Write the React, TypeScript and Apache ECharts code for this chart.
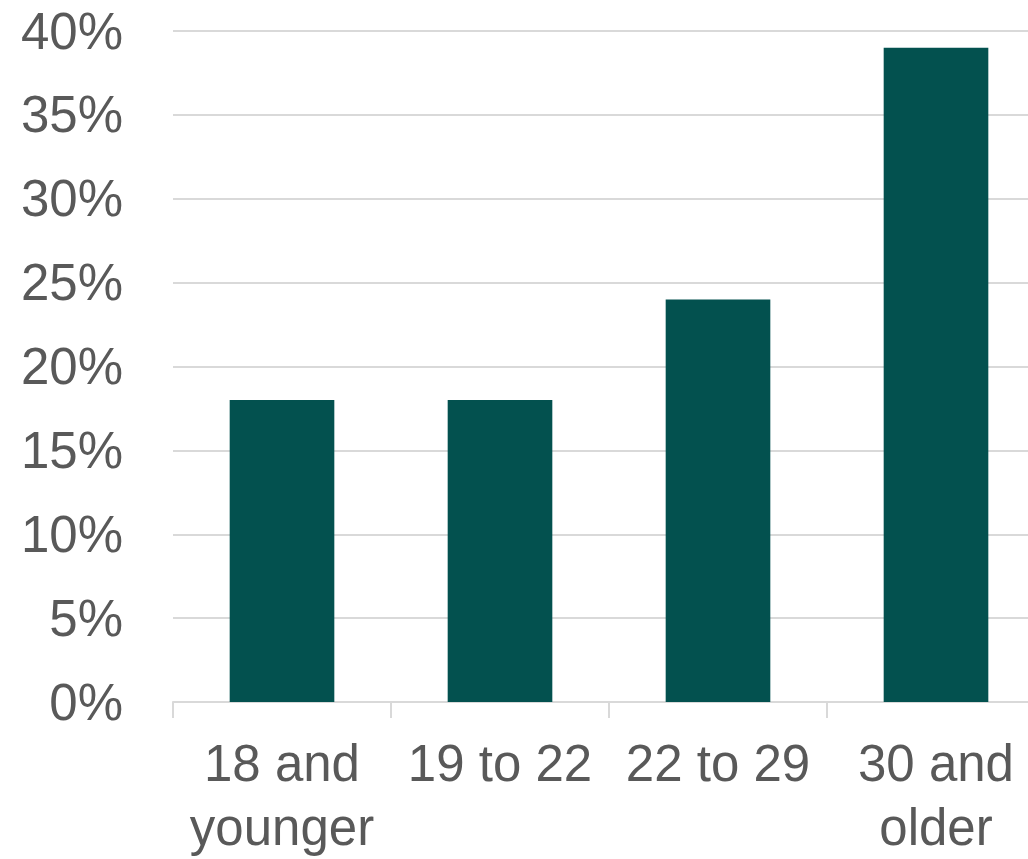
import React, { useEffect, useRef } from "react";
import * as echarts from "echarts";

const categories = ["18 and\nyounger", "19 to 22", "22 to 29", "30 and\nolder"];
const values = [18, 18, 24, 39];
const yMin = 0;
const yMax = 40;
const yInterval = 5;

export default function App() {
  const ref = useRef<HTMLDivElement>(null);
  useEffect(() => {
    if (!ref.current) return;
    const chart = echarts.init(ref.current, null, { renderer: "svg" });
    const font = "'Liberation Sans', Arial, sans-serif";
    chart.setOption({
      animation: false,
      backgroundColor: "#ffffff",
      grid: { left: 173, width: 872, top: 31, height: 676, containLabel: false },
      xAxis: {
        type: "category",
        data: categories,
        boundaryGap: true,
        axisLine: { show: true, lineStyle: { color: "#d9d9d9", width: 2 } },
        axisTick: { show: true, length: 16, lineStyle: { color: "#d9d9d9", width: 2 } },
        axisLabel: {
          color: "#595959",
          fontSize: 51,
          fontFamily: font,
          lineHeight: 64,
          margin: 29,
          interval: 0,
        },
      },
      yAxis: {
        type: "value",
        min: yMin,
        max: yMax,
        interval: yInterval,
        axisLine: { show: false },
        axisTick: { show: false },
        splitLine: { show: true, lineStyle: { color: "#d9d9d9", width: 2 } },
        axisLabel: {
          color: "#595959",
          fontSize: 51,
          fontFamily: font,
          margin: 50,
          formatter: (v: number) => `${v}%`,
        },
      },
      series: [
        {
          type: "bar",
          data: values,
          barWidth: "48%",
          itemStyle: { color: "#03514f" },
        },
      ],
    });
    return () => chart.dispose();
  }, []);
  return (
    <div
      ref={ref}
      style={{ position: "fixed", left: 0, top: 0, width: 1045, height: 859 }}
    />
  );
}
